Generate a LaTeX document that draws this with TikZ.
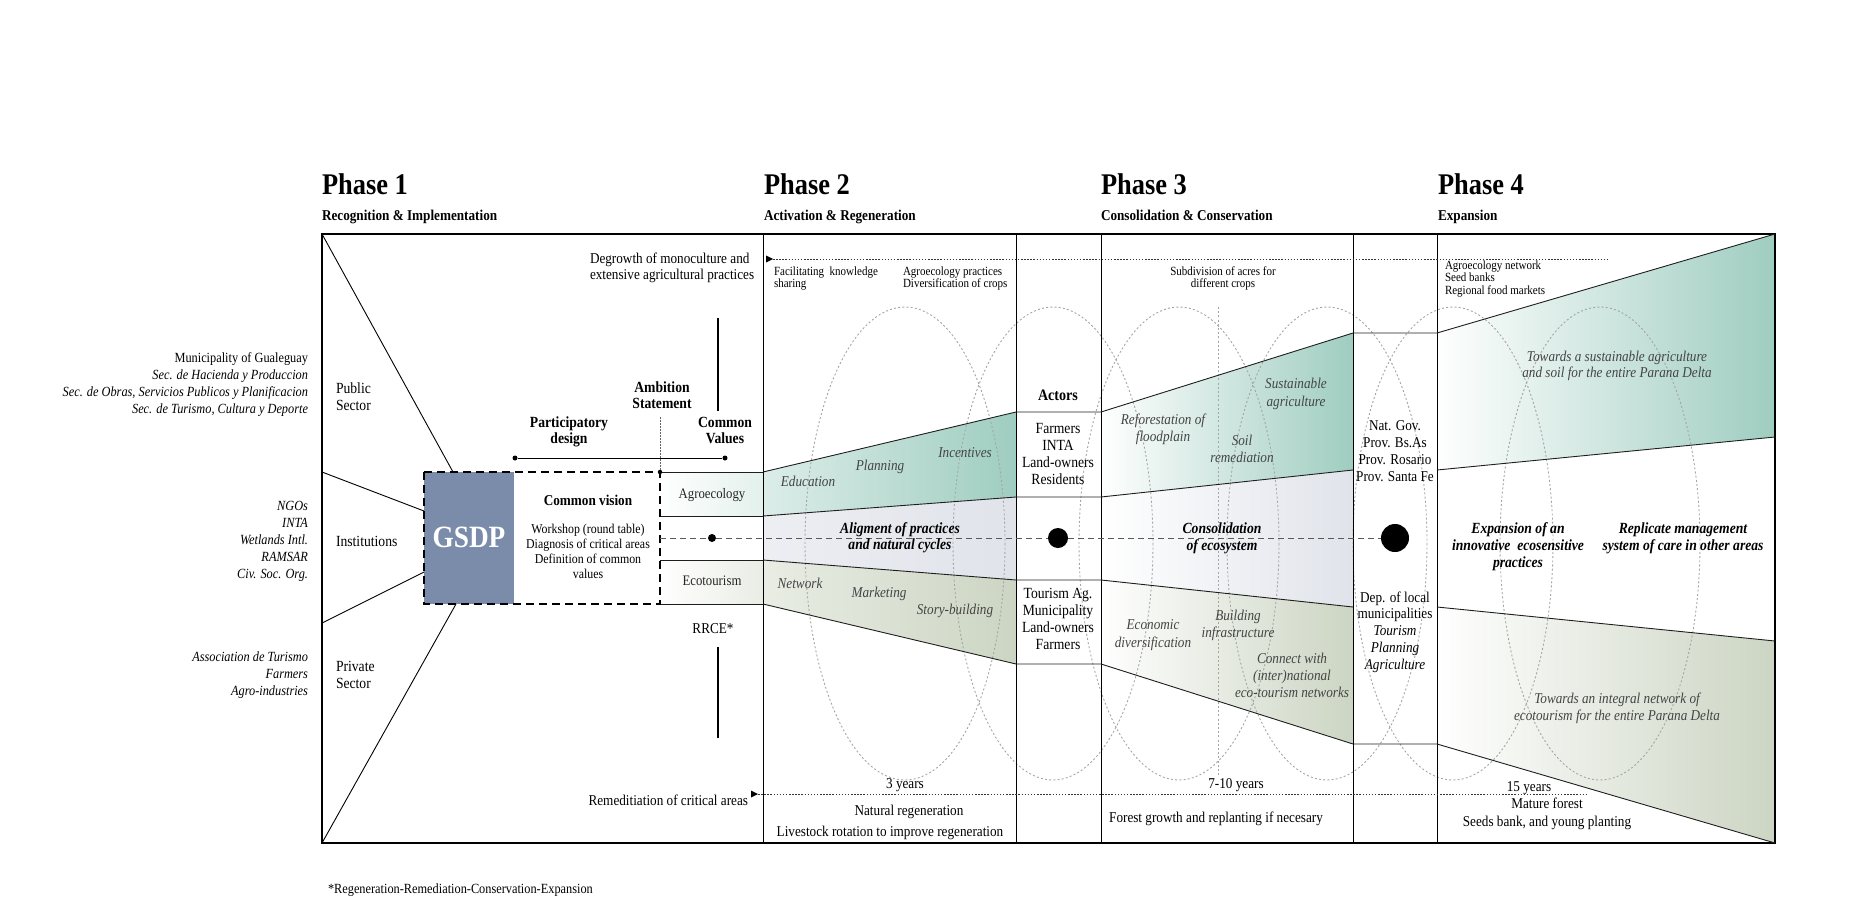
\documentclass[tikz,border=0pt]{standalone}
\usepackage{fontspec}
\setmainfont{Liberation Serif}[FakeStretch=0.88]
\usetikzlibrary{arrows.meta}
\definecolor{tealD}{HTML}{9FCDC0}
\definecolor{tealL}{HTML}{DCEDE8}
\definecolor{oliveD}{HTML}{CCD5C3}
\definecolor{oliveL}{HTML}{E9EDE4}
\definecolor{midD}{HTML}{E0E3EA}
\definecolor{gsdpC}{HTML}{7A8CAA}
\definecolor{ellC}{HTML}{A5A5A5}
\definecolor{labC}{HTML}{444444}
\definecolor{lineC}{HTML}{1E1E1E}
\newcommand\fz[2]{\fontsize{#1}{#2}\selectfont}
\newcommand\ml[2][c]{\begin{tabular}[t]{@{}#1@{}}#2\end{tabular}}
\tikzset{
 tx/.style={inner sep=0pt, outer sep=0pt},
 headtxt/.style={tx, anchor=base west, font=\fz{30}{32}\bfseries},
 subtxt/.style={tx, anchor=base west, font=\fz{15}{17}\bfseries},
 sidelbl/.style={tx, anchor=base east, font=\fz{14}{16.9}},
 bodytxt/.style={tx, anchor=base, font=\fz{15}{17}},
 boldtxt/.style={tx, anchor=base, font=\fz{15.5}{16}\bfseries},
 smalltxt/.style={tx, font=\fz{12.5}{12.3}},
 bandlbl/.style={tx, anchor=base, text=labC, font=\fz{15}{17}\itshape},
 bandbold/.style={tx, anchor=base, font=\fz{15.5}{16.8}\bfseries\itshape},
 framebox/.style={line width=1.2pt, draw=black},
 colline/.style={line width=0.9pt, draw=black},
 bandedge/.style={line width=0.9pt, draw=lineC},
 ellstyle/.style={draw=ellC, line width=0.9pt, dash pattern=on 2pt off 2.2pt},
 dotline/.style={draw=black!80, line width=0.8pt, dash pattern=on 1.5pt off 1.6pt},
 cline/.style={draw=black!65, line width=0.8pt, dash pattern=on 6pt off 4pt},
 gdash/.style={line width=2pt, dash pattern=on 8pt off 5pt},
 blackdot/.style={circle, fill=black, inner sep=0pt},
 thickbar/.style={line width=2.6pt},
}
\begin{document}
\begin{tikzpicture}[x=1pt,y=-1pt]
\useasboundingbox (0,0) rectangle (1862,899);

% ---------- fills ----------
\shade[left color=white, right color=tealL!80] (660,472) rectangle (763,516);
\shade[left color=white, right color=oliveL] (660,560) rectangle (763,604);
% phase 2
\shade[left color=tealL, right color=tealD] (763,472) -- (1016,412) -- (1016,497) -- (763,516) -- cycle;
\shade[left color=white!40!midD, right color=midD] (763,516) -- (1016,497) -- (1016,580) -- (763,560) -- cycle;
\shade[left color=oliveL, right color=oliveD] (763,560) -- (1016,580) -- (1016,664) -- (763,604) -- cycle;
% phase 3
\shade[left color=white, right color=tealD] (1101,412) -- (1353,333) -- (1353,470) -- (1101,497) -- cycle;
\shade[left color=white, right color=midD] (1101,497) -- (1353,470) -- (1353,607) -- (1101,580) -- cycle;
\shade[left color=white, right color=oliveD] (1101,580) -- (1353,607) -- (1353,744) -- (1101,664) -- cycle;
% phase 4
\shade[left color=white, right color=tealD] (1437,333) -- (1775,234) -- (1775,437) -- (1437,470) -- cycle;
\shade[left color=white, right color=oliveD] (1437,607) -- (1775,641) -- (1775,843) -- (1437,744) -- cycle;
% GSDP block
\fill[gsdpC] (424,472) rectangle (514,604);

% ---------- dotted ellipses ----------
\foreach \cx in {905,1053,1179,1327,1453,1600}
  \draw[ellstyle] (\cx,543.5) ellipse [x radius=100, y radius=236.5];
\draw[ellstyle] (1218,307) -- (1218,777);

% ---------- frame and columns ----------
\draw[framebox] (322,234) rectangle (1775,843);
\foreach \xx in {763,1016,1101,1353,1437}
  \draw[colline] (\xx,234) -- (\xx,843);

% fan lines
\draw[colline] (322,234) -- (453,472);
\draw[colline] (322,472) -- (424,511);
\draw[colline] (424,572) -- (322,623);
\draw[colline] (456,604) -- (322,843);

% agro / eco box
\draw[bandedge] (660,472) -- (763,472);
\draw[bandedge] (660,516) -- (763,516);
\draw[bandedge] (660,560) -- (763,560);
\draw[bandedge] (660,604) -- (763,604);

% band edges
\draw[bandedge] (763,472) -- (1016,412) -- (1101,412) -- (1353,333) -- (1437,333) -- (1775,234);
\draw[bandedge] (763,516) -- (1016,497) -- (1101,497) -- (1353,470);
\draw[bandedge] (1437,470) -- (1775,437);
\draw[bandedge] (763,560) -- (1016,580) -- (1101,580) -- (1353,607);
\draw[bandedge] (1437,607) -- (1775,641);
\draw[bandedge] (763,604) -- (1016,664) -- (1101,664) -- (1353,744) -- (1437,744) -- (1775,843);

% dashed vision box
\draw[gdash] (424,472) rectangle (660,604);

% dots
\node[blackdot, minimum size=8pt] (d1) at (712,538) {};
\node[blackdot, minimum size=20pt] (d2) at (1058,538) {};
\node[blackdot, minimum size=28pt] (d3) at (1395,538) {};
\node[blackdot, minimum size=4.5pt] (cdot) at (660,472) {};
\coordinate (cl0) at (660,538);
\draw[cline] (cl0) -- (d1) -- (d2) -- (d3);

% participatory line
\node[blackdot, minimum size=5pt] (pa) at (515,458) {};
\node[blackdot, minimum size=5pt] (pb) at (725,458) {};
\draw[line width=1pt] (pa) -- (pb);
% ambition dotted
\coordinate (amb) at (660,417);
\draw[draw=black!60, line width=0.7pt, dash pattern=on 1.5pt off 1.5pt] (amb) -- (cdot);
% thick bars
\coordinate (vb1) at (718,318); \coordinate (vb2) at (718,411);
\draw[thickbar] (vb1) -- (vb2);
\coordinate (rb1) at (718,647); \coordinate (rb2) at (718,738);
\draw[thickbar] (rb1) -- (rb2);

% top / bottom dotted timelines
\coordinate (ta) at (773,259); \coordinate (tb) at (1609,259);
\fill (766,255.5) -- (773,259) -- (766,262.5) -- cycle;
\draw[dotline] (ta) -- (tb);
\coordinate (ba) at (758,794); \coordinate (bb) at (1587,794);
\fill (751,790.5) -- (758,794) -- (751,797.5) -- cycle;
\draw[dotline] (ba) -- (bb);

% ---------- headings ----------
\node[headtxt] (h1) at (322,194) {Phase 1};
\node[subtxt]  (s1) at (322,220) {Recognition \& Implementation};
\node[headtxt] (h2) at (764,194) {Phase 2};
\node[subtxt]  (s2) at (764,220) {Activation \& Regeneration};
\node[headtxt] (h3) at (1101,194) {Phase 3};
\node[subtxt]  (s3) at (1101,220) {Consolidation \& Conservation};
\node[headtxt] (h4) at (1438,194) {Phase 4};
\node[subtxt]  (s4) at (1438,220) {Expansion};

% ---------- left side lists ----------
\node[sidelbl] (pub) at (308,362.7) {\ml[r]{Municipality of Gualeguay\\\textit{Sec. de Hacienda y Produccion}\\\textit{Sec. de Obras, Servicios Publicos y Planificacion}\\\textit{Sec. de Turismo, Cultura y Deporte}}};
\node[sidelbl, font=\fz{14}{17.1}\itshape] (inst) at (308,510) {\ml[r]{NGOs\\INTA\\Wetlands Intl.\\RAMSAR\\Civ. Soc. Org.}};
\node[sidelbl, font=\fz{14}{17}\itshape] (priv) at (308,661.7) {\ml[r]{Association de Turismo\\Farmers\\Agro-industries}};

\node[tx, anchor=base west, font=\fz{15.5}{17.5}] (pubs) at (336,393) {\ml[l]{Public\\Sector}};
\node[tx, anchor=base west, font=\fz{15.5}{17}] (insts) at (336,546) {Institutions};
\node[tx, anchor=base west, font=\fz{15.5}{17}] (privs) at (336,671) {\ml[l]{Private\\Sector}};

% GSDP
\node[tx, anchor=base, text=white, font=\fz{31}{32}\bfseries] (gsdp) at (469,547) {GSDP};

% common vision
\node[tx, anchor=base, font=\fz{15}{17}\bfseries] (cv) at (588,505) {Common vision};
\node[tx, anchor=base, font=\fz{13.5}{15}] (cvl) at (588,533) {\ml{Workshop (round table)\\Diagnosis of critical areas\\Definition of common\\values}};

\node[boldtxt] (ambt) at (662,392) {\ml{Ambition\\Statement}};
\node[boldtxt] (part) at (569,427) {\ml{Participatory\\design}};
\node[boldtxt] (cval) at (725,427) {\ml{Common\\Values}};
\node[tx, anchor=base west, font=\fz{15}{16}] (degr) at (590,263) {\ml[l]{Degrowth of monoculture and\\extensive agricultural practices}};

\node[tx, anchor=base, text=black!85, font=\fz{14.5}{16}] (agro) at (712,498) {Agroecology};
\node[tx, anchor=base, text=black!85, font=\fz{14.5}{16}] (ecot) at (712,585) {Ecotourism};
\node[bodytxt] (rrce) at (713,633) {RRCE*};

% top small texts
\node[smalltxt, anchor=base west] (fac) at (774,275) {\ml[l]{Facilitating\ \ knowledge\\sharing}};
\node[smalltxt, anchor=base west] (agp) at (903,275) {\ml[l]{Agroecology practices\\Diversification of crops}};
\node[smalltxt, anchor=base] (subd) at (1223,275) {\ml{Subdivision of acres for\\different crops}};
\node[smalltxt, anchor=base west, font=\fz{12.5}{12.6}] (agn) at (1445,269) {\ml[l]{Agroecology network\\Seed banks\\Regional food markets}};

% actors
\node[tx, anchor=base, font=\fz{16}{17}\bfseries] (act) at (1058,400) {Actors};
\node[tx, anchor=base, font=\fz{15.5}{17}] (act1) at (1058,433) {\ml{Farmers\\INTA\\Land-owners\\Residents}};
\node[tx, anchor=base, font=\fz{15.5}{17}] (act2) at (1058,598) {\ml{Tourism Ag.\\Municipality\\Land-owners\\Farmers}};

% government column
\node[tx, anchor=base, font=\fz{15}{17}] (gov1) at (1395,430) {\ml{Nat. Gov.\\Prov. Bs.As\\Prov. Rosario\\Prov. Santa Fe}};
\node[tx, anchor=base, font=\fz{15}{16.8}] (gov2) at (1395,602) {\ml{Dep. of local\\municipalities\\\textit{Tourism}\\\textit{Planning}\\\textit{Agriculture}}};

% band labels phase 2
\node[bandlbl] (l1) at (808,486) {Education};
\node[bandlbl] (l2) at (880,470) {Planning};
\node[bandlbl] (l3) at (965,457) {Incentives};
\node[bandlbl] (l4) at (800,588) {Network};
\node[bandlbl] (l5) at (879,597) {Marketing};
\node[bandlbl] (l6) at (955,614) {Story-building};
\node[bandbold] (l7) at (900,533) {\ml{Aligment of practices\\and natural cycles}};

% phase 3
\node[bandlbl] (m1) at (1163,424) {\ml{Reforestation of\\floodplain}};
\node[bandlbl] (m2) at (1242,445) {\ml{Soil\\remediation}};
\node[bandlbl, font=\fz{15}{18}\itshape] (m3) at (1296,388) {\ml{Sustainable\\agriculture}};
\node[bandbold, font=\fz{15.5}{17}\bfseries\itshape] (m4) at (1222,533) {\ml{Consolidation\\of ecosystem}};
\node[bandlbl, font=\fz{15}{18}\itshape] (m5) at (1153,629) {\ml{Economic\\diversification}};
\node[bandlbl] (m6) at (1238,620) {\ml{Building\\infrastructure}};
\node[bandlbl] (m7) at (1292,663) {\ml{Connect with\\(inter)national\\eco-tourism networks}};

% phase 4
\node[bandlbl, font=\fz{15}{16.5}\itshape] (n1) at (1617,361) {\ml{Towards a sustainable agriculture\\and soil for the entire Parana Delta}};
\node[bandbold, font=\fz{15.5}{17}\bfseries\itshape] (n2) at (1518,533) {\ml{Expansion of an\\innovative\ \ ecosensitive\\practices}};
\node[bandbold, font=\fz{15.5}{17}\bfseries\itshape] (n3) at (1683,533) {\ml{Replicate management\\system of care in other areas}};
\node[bandlbl] (n4) at (1617,703) {\ml{Towards an integral network of\\ecotourism for the entire Parana Delta}};

% bottom texts
\node[tx, anchor=base east, font=\fz{15}{17}] (rem) at (748,805) {Remeditiation of critical areas};
\node[bodytxt] (y3) at (905,788) {3 years};
\node[bodytxt] (nr) at (909,815) {Natural regeneration};
\node[bodytxt] (ls) at (890,836) {Livestock rotation to improve regeneration};
\node[bodytxt] (y7) at (1236,788) {7-10 years};
\node[bodytxt] (fg) at (1216,822) {Forest growth and replanting if necesary};
\node[bodytxt] (y15) at (1529,791) {15 years};
\node[bodytxt] (mf) at (1547,808) {Mature forest};
\node[bodytxt] (sb) at (1547,826) {Seeds bank, and young planting};

% footnote
\node[tx, anchor=base west, font=\fz{14}{16}] (foot) at (328,893) {*Regeneration-Remediation-Conservation-Expansion};
\end{tikzpicture}
\end{document}
